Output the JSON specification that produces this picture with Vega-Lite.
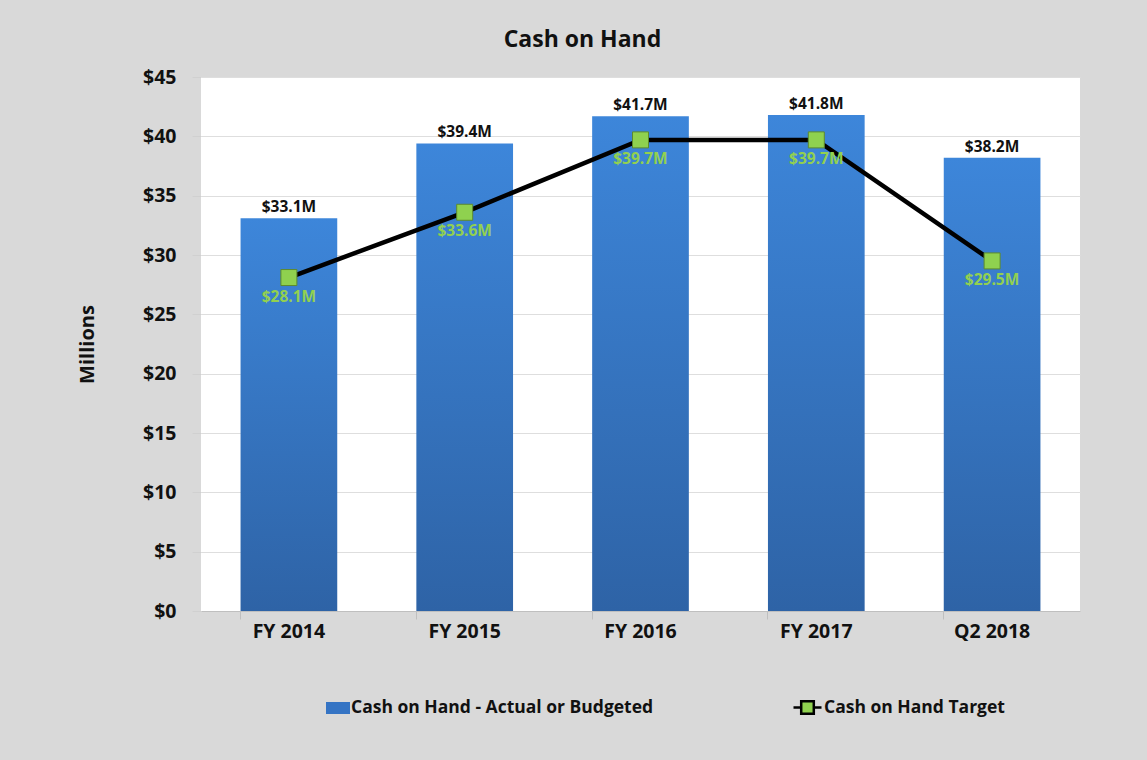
{
  "$schema": "https://vega.github.io/schema/vega-lite/v6.json",
  "width": 879,
  "height": 534,
  "autosize": {"type": "none"},
  "padding": {"left": 201, "top": 77, "right": 67, "bottom": 149},
  "background": "#d9d9d9",
  "title": {
    "text": "Cash on Hand",
    "font": "Open Sans",
    "fontSize": 23,
    "fontWeight": "bold",
    "color": "#111111",
    "anchor": "middle",
    "dx": -58,
    "offset": 15
  },
  "config": {
    "view": {"stroke": null, "fill": "white"},
    "font": "Open Sans",
    "locale": {"number": {"decimal": ".", "thousands": ",", "grouping": [3], "currency": ["$", "M"]}}
  },
  "data": {
    "values": [
      {"period": "FY 2014", "actual": 33.1, "target": 28.1},
      {"period": "FY 2015", "actual": 39.4, "target": 33.6},
      {"period": "FY 2016", "actual": 41.7, "target": 39.7},
      {"period": "FY 2017", "actual": 41.8, "target": 39.7},
      {"period": "Q2 2018", "actual": 38.2, "target": 29.5}
    ]
  },
  "encoding": {
    "x": {
      "field": "period",
      "type": "nominal",
      "sort": null,
      "scale": {"paddingInner": 0.45, "paddingOuter": 0.225},
      "axis": {
        "title": null,
        "labelAngle": 0,
        "labelFont": "Open Sans",
        "labelFontSize": 19.5,
        "labelFontWeight": "bold",
        "labelColor": "#111111",
        "labelPadding": 3,
        "domainColor": "#bfbfbf",
        "tickColor": "#bfbfbf",
        "tickSize": 8,
        "bandPosition": 0
      }
    }
  },
  "layer": [
    {
      "mark": {
        "type": "bar",
        "color": {"gradient": "linear", "x1": 0, "y1": 0, "x2": 0, "y2": 1,
                  "stops": [{"offset": 0, "color": "#3d86da"}, {"offset": 1, "color": "#2e63a6"}]}
      },
      "encoding": {
        "y": {
          "field": "actual",
          "type": "quantitative",
          "scale": {"domain": [0, 45]},
          "axis": {
            "title": "Millions",
            "titleFont": "Open Sans",
            "titleFontSize": 20,
            "titleFontWeight": "bold",
            "titleColor": "#111111",
            "titlePadding": 45,
            "values": [0, 5, 10, 15, 20, 25, 30, 35, 40, 45],
            "labelExpr": "'$' + datum.value",
            "labelFont": "Open Sans",
            "labelFontSize": 19.5,
            "labelFontWeight": "bold",
            "labelColor": "#111111",
            "labelPadding": 16,
            "tickSize": 9,
            "tickColor": "#d0d0d0",
            "domain": false,
            "grid": true,
            "gridColor": "#dedede"
          }
        }
      }
    },
    {
      "mark": {"type": "bar"},
      "encoding": {
        "y": {"datum": 0, "type": "quantitative"},
        "fill": {
          "datum": "Cash on Hand - Actual or Budgeted",
          "scale": {"range": ["#3574c4"]},
          "legend": {
            "title": null,
            "orient": "none",
            "legendX": 125,
            "legendY": 619,
            "symbolType": "M-1,-0.5H1V0.5H-1Z",
            "symbolSize": 576,
            "symbolStrokeWidth": 0,
            "labelFont": "Open Sans",
            "labelFontSize": 17.5,
            "labelFontWeight": "bold",
            "labelColor": "#111111",
            "labelOffset": 1,
            "labelLimit": 400
          }
        }
      }
    },
    {
      "mark": {"type": "line", "strokeWidth": 4.5},
      "encoding": {
        "y": {"field": "target", "type": "quantitative"},
        "stroke": {
          "datum": "Cash on Hand Target",
          "scale": {"range": ["#000000"]},
          "legend": {
            "title": null,
            "orient": "none",
            "legendX": 591,
            "legendY": 615,
            "symbolType": "M-1,0H-0.45M0.45,0H1M-0.45,-0.45H0.45V0.45H-0.45Z",
            "symbolSize": 784,
            "symbolStrokeWidth": 2.5,
            "labelFont": "Open Sans",
            "labelFontSize": 17.5,
            "labelFontWeight": "bold",
            "labelColor": "#111111",
            "labelOffset": 1,
            "labelLimit": 400,
            "encode": {"symbols": {"update": {"fill": {"value": "#8fd14f"}, "stroke": {"value": "#000000"}}}}
          }
        }
      }
    },
    {
      "mark": {"type": "point", "shape": "square", "filled": true, "size": 256, "fill": "#8fd14f", "stroke": "#5d8a2e", "strokeWidth": 1, "opacity": 1},
      "encoding": {
        "y": {"field": "target", "type": "quantitative"}
      }
    },
    {
      "mark": {"type": "text", "baseline": "bottom", "dy": -3, "fontSize": 15.5, "fontWeight": "bold", "font": "Open Sans", "color": "#111111"},
      "encoding": {
        "y": {"field": "actual", "type": "quantitative"},
        "text": {"field": "actual", "type": "quantitative", "format": "$.1f"}
      }
    },
    {
      "mark": {"type": "text", "baseline": "top", "dy": 12, "fontSize": 15.5, "fontWeight": "bold", "font": "Open Sans", "color": "#92d050"},
      "encoding": {
        "y": {"field": "target", "type": "quantitative"},
        "text": {"field": "target", "type": "quantitative", "format": "$.1f"}
      }
    }
  ]
}
